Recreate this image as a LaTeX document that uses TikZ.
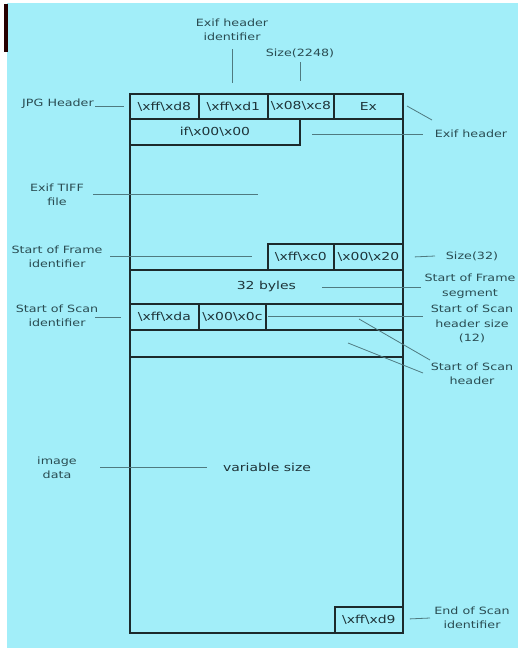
\documentclass[tikz,border=0pt]{standalone}
\usepackage{fontspec}
\newfontfamily\labfont[FakeStretch=1.27]{DejaVu Sans}
\definecolor{bgcyan}{HTML}{A2EEF9}
\definecolor{boxline}{HTML}{1C2A2C}
\definecolor{annline}{HTML}{4F7A80}
\definecolor{labtext}{HTML}{2A4C52}
\definecolor{celltext}{HTML}{1E3338}
\newcommand{\bs}{\textbackslash}
\tikzset{
  cell/.style={draw=boxline, line width=1.8pt, anchor=north west, inner sep=0pt,
    font=\labfont\fontsize{11}{13}\selectfont, text=celltext},
  lab/.style={font=\labfont\fontsize{10}{14.5}\selectfont, text=labtext, align=center, inner sep=0pt},
  ann/.style={draw=annline, line width=0.8pt},
}
\begin{document}
\begin{tikzpicture}[x=1pt,y=-1pt]
\useasboundingbox (0,0) rectangle (518,649);
\fill[white] (0,0) rectangle (518,649);
\fill[bgcyan] (7,3) rectangle (518,648);
\fill[black!85!red] (4,4) rectangle (8,52);

% main outer box
\node[cell, minimum width=273pt, minimum height=539pt] (main) at (129,93) {};
% header row
\node[cell, minimum width=69pt, minimum height=25pt] (h1) at (129,93) {\bs xff\bs xd8};
\node[cell, minimum width=69pt, minimum height=25pt] (h2) at (198,93) {\bs xff\bs xd1};
\node[cell, minimum width=66pt, minimum height=25pt] (h3) at (267,93) {\bs x08\bs xc8};
\node[cell, minimum width=69pt, minimum height=25pt] (h4) at (333,93) {Ex};
\node[cell, minimum width=170pt, minimum height=26pt] (h5) at (129,118) {if\bs x00\bs x00};
% start of frame
\node[cell, minimum width=66pt, minimum height=26pt] (f1) at (267,243) {\bs xff\bs xc0};
\node[cell, minimum width=69pt, minimum height=26pt] (f2) at (333,243) {\bs x00\bs x20};
\node[cell, minimum width=273pt, minimum height=34pt] (f3) at (129,269) {32 byles};
% start of scan
\node[cell, minimum width=69pt, minimum height=26pt] (s1) at (129,303) {\bs xff\bs xda};
\node[cell, minimum width=67pt, minimum height=26pt] (s2) at (198,303) {\bs x00\bs x0c};
\node[cell, minimum width=137pt, minimum height=26pt] (s3) at (265,303) {};
\node[cell, minimum width=273pt, minimum height=27pt] (s4) at (129,329) {};
% image data
\node[font=\labfont\fontsize{11}{13}\selectfont, text=celltext, inner sep=0pt] (vs) at (267,467) {variable size};
\node[cell, minimum width=68pt, minimum height=26pt] (e1) at (334,606) {\bs xff\bs xd9};

% labels
\node[lab] (lJPG) at (58,104) {JPG Header};
\node[lab] (lEHI) at (232,30) {Exif header\\identifier};
\node[lab] (lSz) at (300,53) {Size(2248)};
\node[lab] (lEH) at (471,134) {Exif header};
\node[lab] (lTIFF) at (57,195) {Exif TIFF\\file};
\node[lab] (lSOF) at (57,257) {Start of Frame\\identifier};
\node[lab] (lSz32) at (472,256) {Size(32)};
\node[lab] (lSOFs) at (470,286) {Start of Frame\\segment};
\node[lab] (lSOS) at (57,316) {Start of Scan\\identifier};
\node[lab] (lSOSz) at (472,324) {Start of Scan\\header size\\(12)};
\node[lab] (lSOSh) at (472,374) {Start of Scan\\header};
\node[lab] (lImg) at (57,468) {image\\data};
\node[lab] (lEOS) at (472,618) {End of Scan\\identifier};

% annotation lines
\coordinate (cJPG) at (124,106);
\draw[ann] (95,106) -- (cJPG);
\coordinate (cEHIa) at (232.5,49); \coordinate (cEHIb) at (232.5,83);
\draw[ann] (cEHIa) -- (cEHIb);
\coordinate (cSza) at (300,62); \coordinate (cSzb) at (300,81);
\draw[ann] (cSza) -- (cSzb);
\coordinate (cExa) at (407,106); \coordinate (cExb) at (432,120);
\draw[ann] (cExa) -- (cExb);
\coordinate (cEH) at (312,134);
\draw[ann] (cEH) -- (423,134);
\coordinate (cTIFF) at (258,194);
\draw[ann] (93,194) -- (cTIFF);
\coordinate (cSOF) at (252,256);
\draw[ann] (110,256) -- (cSOF);
\draw[ann] (f2.east) ++(11,0) -- (435,256);
\coordinate (cSOFs) at (322,287);
\draw[ann] (cSOFs) -- (421,287);
\coordinate (cSOS) at (121,317);
\draw[ann] (95,317) -- (cSOS);
\coordinate (cSOSz) at (268,316);
\draw[ann] (cSOSz) -- (423,316);
\coordinate (cD1) at (359,319);
\draw[ann] (cD1) -- (430,360);
\coordinate (cD2) at (348,343);
\draw[ann] (cD2) -- (423,373);
\coordinate (cImg) at (207,467);
\draw[ann] (100,467) -- (cImg);
\draw[ann] (e1.east) ++(6,-1) -- (430,618);
\end{tikzpicture}
\end{document}
